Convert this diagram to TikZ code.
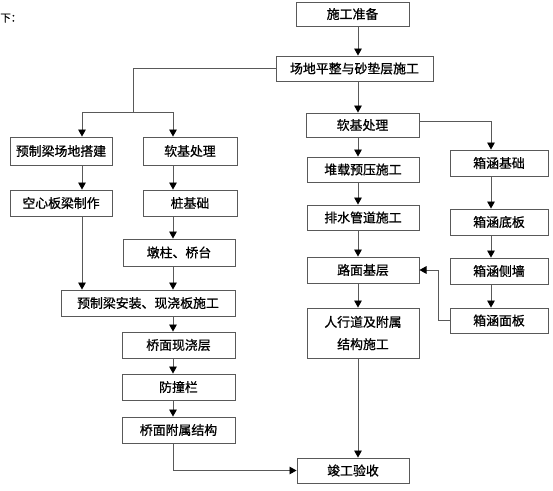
\documentclass[tikz,border=0pt]{standalone}
\usepackage{fontspec}
\setmainfont{Noto Sans CJK SC}
\newfontfamily\boxfont{Noto Sans CJK SC}[FakeBold=0.8]
\usetikzlibrary{arrows.meta}

\tikzset{
  blk/.style={draw=black!65, line width=0.8pt, minimum height=0.78cm, inner sep=1pt,
    font=\boxfont\fontsize{11}{19}\selectfont, align=center},
  arr/.style={draw=black!65, line width=0.8pt, -{Triangle[width=6.5pt,length=6pt,black]}},
  ln/.style={draw=black!65, line width=0.8pt},
}

\begin{document}
\begin{tikzpicture}[x=0.03cm,y=-0.03cm]
\useasboundingbox (0,0) rectangle (553,490);

\node[anchor=west, font=\boxfont\fontsize{9}{11}\selectfont, inner sep=0] (hd) at (0,18) {下：};

% trunk
\node[blk, minimum width=3.39cm, minimum height=0.72cm] (prep) at (352.5,14) {施工准备};
\node[blk, minimum width=4.71cm, minimum height=0.75cm] (site) at (354.5,68.5) {场地平整与砂垫层施工};

% bridge branch
\node[blk, minimum width=3.06cm, minimum height=0.84cm] (lpre) at (61,151) {预制梁场地搭建};
\node[blk, minimum width=2.82cm, minimum height=0.84cm] (lsoft) at (190,151) {软基处理};
\node[blk, minimum width=3.06cm] (hollow) at (61,203) {空心板梁制作};
\node[blk, minimum width=2.82cm] (pile) at (190,203) {桩基础};
\node[blk, minimum width=3.36cm, minimum height=0.81cm] (pier) at (179,252.5) {墩柱、桥台};
\node[blk, minimum width=5.22cm] (install) at (148,303) {预制梁安装、现浇板施工};
\node[blk, minimum width=3.39cm] (deck) at (178.5,345) {桥面现浇层};
\node[blk, minimum width=3.39cm] (rail) at (178.5,387) {防撞栏};
\node[blk, minimum width=3.39cm] (attach) at (178.5,430) {桥面附属结构};

% road branch
\node[blk, minimum width=3.39cm, minimum height=0.72cm] (rsoft) at (362.5,125) {软基处理};
\node[blk, minimum width=3.36cm, minimum height=0.75cm] (surch) at (363,169.5) {堆载预压施工};
\node[blk, minimum width=3.36cm, minimum height=0.75cm] (drain) at (363,217.5) {排水管道施工};
\node[blk, minimum width=3.36cm] (base) at (363,270) {路面基层};
\node[blk, minimum width=3.36cm, minimum height=1.5cm] (walk) at (363,333) {人行道及附属\\结构施工};
\node[blk, minimum width=3.36cm, minimum height=0.75cm] (done) at (353,470.5) {竣工验收};

% culvert branch
\node[blk, minimum width=2.94cm] (cbase) at (499,163) {箱涵基础};
\node[blk, minimum width=2.94cm] (cbot) at (499,222) {箱涵底板};
\node[blk, minimum width=2.94cm] (cwall) at (499,271) {箱涵侧墙};
\node[blk, minimum width=2.94cm, minimum height=0.75cm] (ctop) at (499,320.5) {箱涵面板};

% arrow columns
\coordinate (cL) at (82,0);
\coordinate (cM) at (173,0);
\coordinate (cR) at (358,0);
\coordinate (cB) at (491,0);
\coordinate (fork) at (133,112);

% trunk links
\draw[arr] (prep.south -| cR) -- (site.north -| cR);
\draw[arr] (site.south -| cR) -- (rsoft.north -| cR);
\draw[ln] (site.west) -| (fork);
\draw[arr] (fork) -| (lpre.north -| cL);
\draw[arr] (fork) -| (lsoft.north -| cM);

% bridge links
\draw[arr] (lpre.south -| cL) -- (hollow.north -| cL);
\draw[arr] (hollow.south -| cL) -- (install.north -| cL);
\draw[arr] (lsoft.south -| cM) -- (pile.north -| cM);
\draw[arr] (pile.south -| cM) -- (pier.north -| cM);
\draw[arr] (pier.south -| cM) -- (install.north -| cM);
\draw[arr] (install.south -| cM) -- (deck.north -| cM);
\draw[arr] (deck.south -| cM) -- (rail.north -| cM);
\draw[arr] (rail.south -| cM) -- (attach.north -| cM);
\draw[arr] (attach.south -| cM) |- (done.west);

% road links
\draw[arr] (rsoft.south -| cR) -- (surch.north -| cR);
\draw[arr] (surch.south -| cR) -- (drain.north -| cR);
\draw[arr] (drain.south -| cR) -- (base.north -| cR);
\draw[arr] (base.south -| cR) -- (walk.north -| cR);
\draw[arr] (walk.south -| cR) -- (done.north -| cR);

% culvert links
\draw[arr] ([yshift=3]rsoft.east) -| (cbase.north -| cB);
\draw[arr] (cbase.south -| cB) -- (cbot.north -| cB);
\draw[arr] (cbot.south -| cB) -- (cwall.north -| cB);
\draw[arr] (cwall.south -| cB) -- (ctop.north -| cB);
\draw[arr] (ctop.west) -- ++(-11,0) |- (base.east);

\end{tikzpicture}
\end{document}
